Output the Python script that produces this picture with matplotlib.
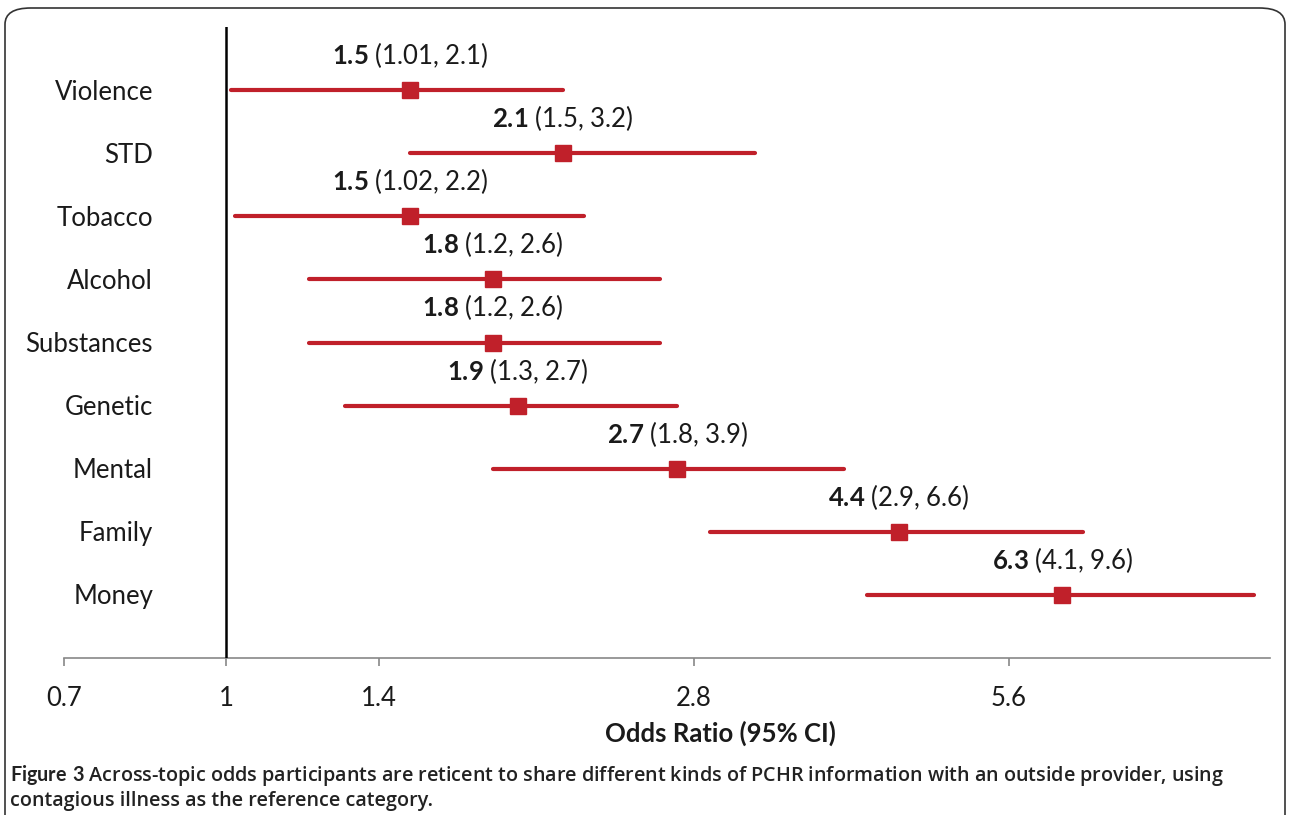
import matplotlib
matplotlib.use("Agg")
import matplotlib.pyplot as plt
from matplotlib.patches import FancyBboxPatch
from matplotlib.ticker import NullLocator

plt.rcParams['font.family'] = ['Lato', 'DejaVu Sans']
plt.rcParams['mathtext.fontset'] = 'custom'
plt.rcParams['mathtext.rm'] = 'Lato'
plt.rcParams['mathtext.bf'] = 'Lato:bold'

# odds ratios with 95% CI, top to bottom
topics = ["Violence", "STD", "Tobacco", "Alcohol", "Substances",
          "Genetic", "Mental", "Family", "Money"]
odds = [1.5, 2.1, 1.5, 1.8, 1.8, 1.9, 2.7, 4.4, 6.3]
ci_low = [1.01, 1.5, 1.02, 1.2, 1.2, 1.3, 1.8, 2.9, 4.1]
ci_high = [2.1, 3.2, 2.2, 2.6, 2.6, 2.7, 3.9, 6.6, 9.6]
odds_txt = ["1.5", "2.1", "1.5", "1.8", "1.8", "1.9", "2.7", "4.4", "6.3"]
ci_txt = ["(1.01, 2.1)", "(1.5, 3.2)", "(1.02, 2.2)", "(1.2, 2.6)", "(1.2, 2.6)",
          "(1.3, 2.7)", "(1.8, 3.9)", "(2.9, 6.6)", "(4.1, 9.6)"]
x_ticks = [0.7, 1, 1.4, 2.8, 5.6]
x_tick_labels = ["0.7", "1", "1.4", "2.8", "5.6"]

red = "#c0202a"
txt = "#1a1a1a"
fs = 18.5

fig = plt.figure(figsize=(12.89, 8.15), dpi=100)
ax = fig.add_axes([64 / 1289, 1 - 658 / 815, 1206 / 1289, 631 / 815])

n = len(topics)
ys = [n - i for i in range(n)]

for y, o, lo, hi, ot, ct in zip(ys, odds, ci_low, ci_high, odds_txt, ci_txt):
    ax.plot([lo, hi], [y, y], color=red, lw=3, solid_capstyle='round', zorder=2)
    ax.plot(o, y, marker='s', ms=11.5, color=red, zorder=3)
    ax.annotate(r"$\mathbf{" + ot + "}$ " + ct, xy=(o, y), xytext=(0, 35),
                textcoords='offset pixels', ha='center', va='center',
                fontsize=fs, color=txt)

for y, t in zip(ys, topics):
    ax.annotate(t, xy=(89 / 1206, y), xycoords=ax.get_yaxis_transform(),
                xytext=(0, -2), textcoords='offset pixels',
                ha='right', va='center', fontsize=fs, color=txt)

ax.axvline(1, color='black', lw=1.8, zorder=4)

ax.set_xscale('log', base=2)
ax.set_xlim(0.7, 9.95)
ax.set_ylim(0, n + 1)
ax.set_xticks(x_ticks)
ax.set_xticklabels(x_tick_labels)
ax.xaxis.set_minor_locator(NullLocator())
ax.set_yticks([])
ax.tick_params(axis='x', colors='#888888', length=6, width=1.2, pad=14,
               labelsize=fs, labelcolor=txt)
for s in ['top', 'right', 'left']:
    ax.spines[s].set_visible(False)
ax.spines['bottom'].set_color('#888888')
ax.spines['bottom'].set_linewidth(1.2)

fig.text(720 / 1289, 1 - 733 / 815, "Odds Ratio (95% CI)", ha='center', va='center',
         fontsize=fs, fontweight='bold', color=txt)

# caption
cap_font = ['Open Sans', 'DejaVu Sans']
fig.text(10 / 1289, 1 - 775 / 815, r"$\mathbf{Figure\ 3}$ Across-topic odds participants are reticent to share "
         "different kinds of PCHR information with an outside provider, using",
         ha='left', va='center', fontsize=14.2, color='#222222', fontweight='semibold', family=cap_font)
fig.text(10 / 1289, 1 - 801 / 815, "contagious illness as the reference category.",
         ha='left', va='center', fontsize=14.2, color='#222222', fontweight='semibold', family=cap_font)

box = FancyBboxPatch((5 / 1289, -0.05), 1280 / 1289, 1.05 - 8 / 815,
                     boxstyle="round,pad=0,rounding_size=0.02", transform=fig.transFigure,
                     fill=False, edgecolor='#333333', lw=1.2)
fig.patches.append(box)

fig.savefig("out.png", dpi=100)
